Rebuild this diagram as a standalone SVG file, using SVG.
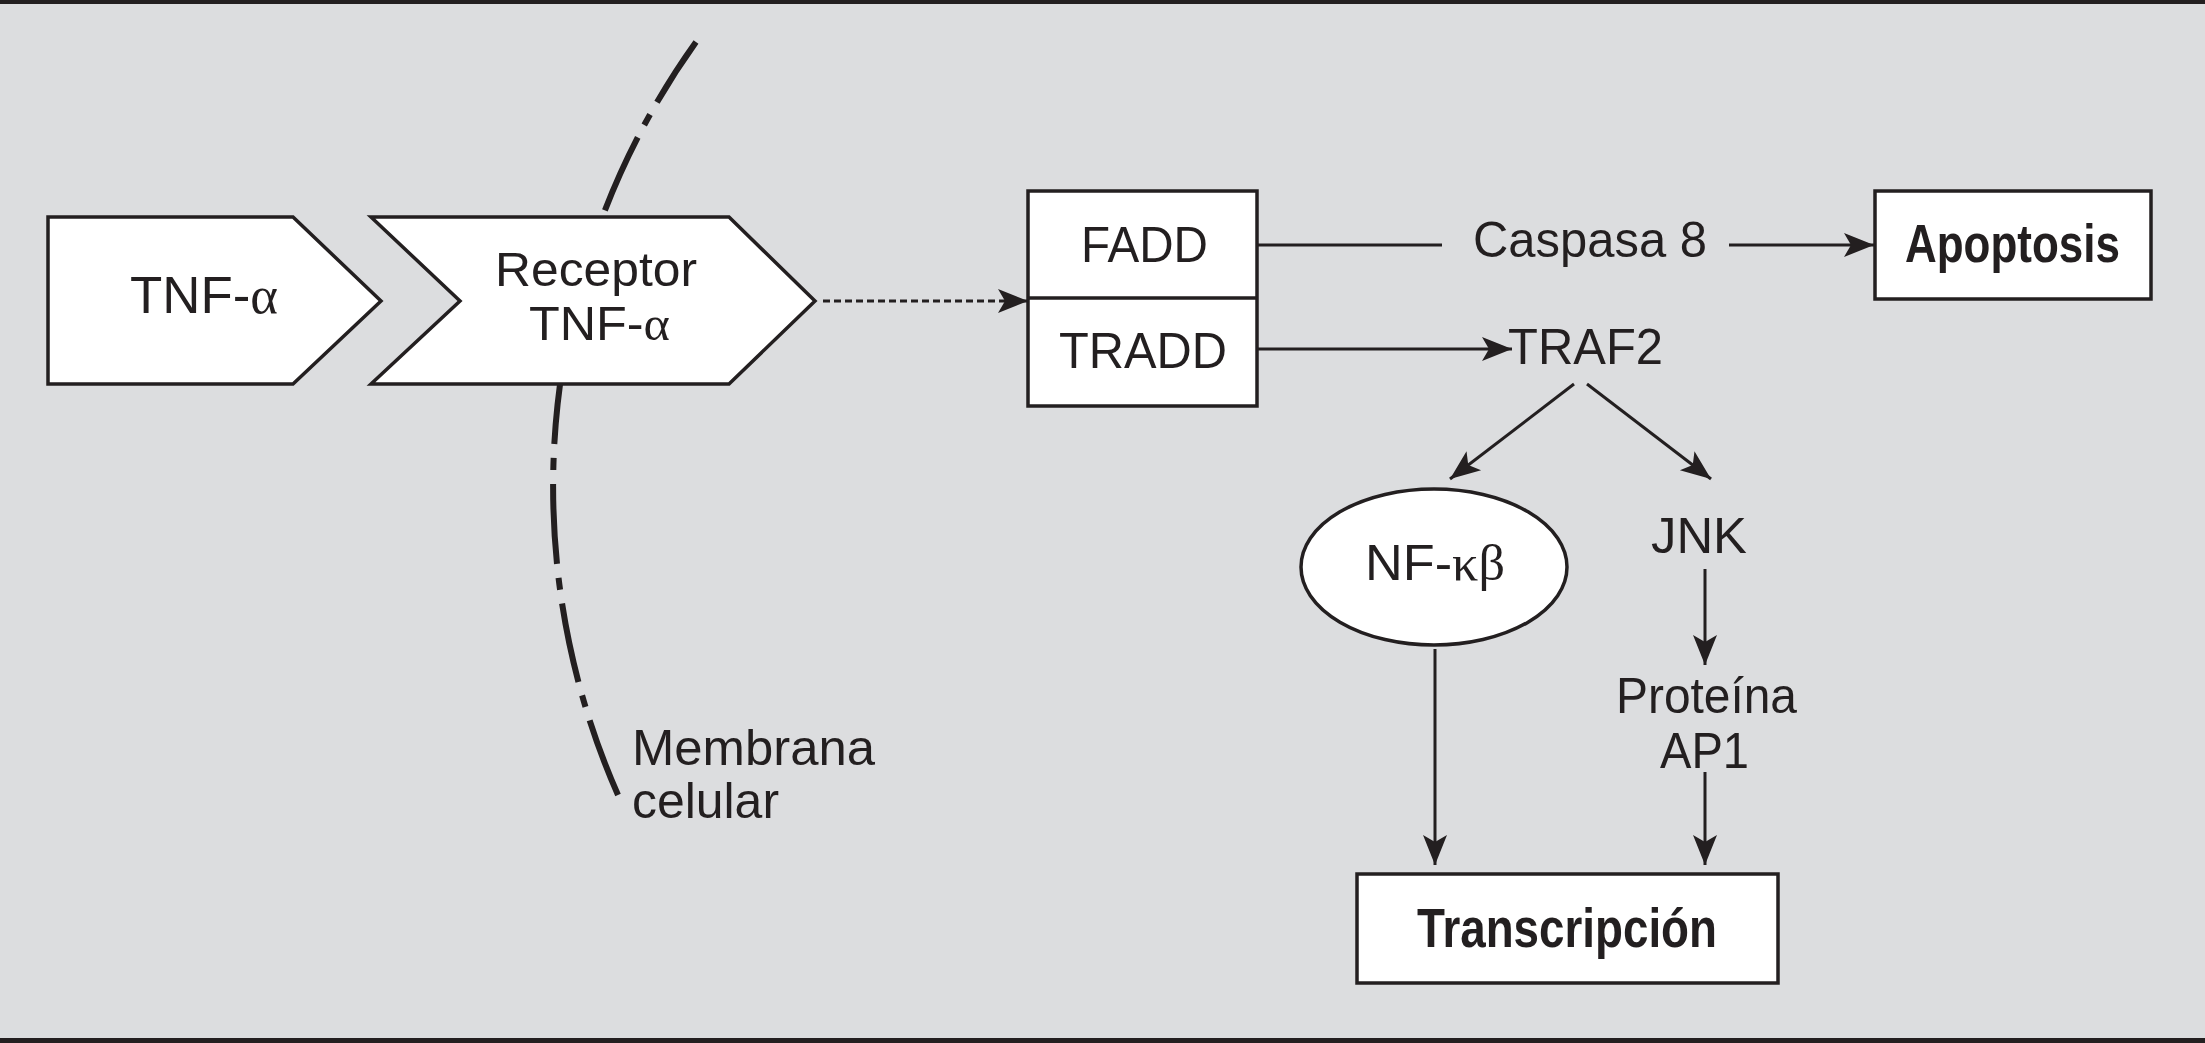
<svg xmlns="http://www.w3.org/2000/svg" width="2205" height="1043" viewBox="0 0 2205 1043">
<style>
.bg{fill:#dcdddf}
.bar{fill:#231f20}
.shape{fill:#ffffff;stroke:#231f20;stroke-width:3.5;stroke-linejoin:miter}
.ln{fill:none;stroke:#231f20;stroke-width:3}
.dot{fill:none;stroke:#231f20;stroke-width:3;stroke-dasharray:7 4}
.mem{fill:none;stroke:#231f20;stroke-width:6;stroke-dasharray:80 14 12 14}
.t{font-family:"Liberation Sans",Arial,sans-serif;font-size:50px;fill:#231f20}
.b{font-family:"Liberation Sans",Arial,sans-serif;font-weight:bold;fill:#231f20}
.g{font-family:"Liberation Serif","Times New Roman",serif}
</style>
<defs>
<marker id="ah" markerUnits="userSpaceOnUse" viewBox="-32 -13 34 26" markerWidth="34" markerHeight="26" refX="0" refY="0" orient="auto">
<path d="M0,0 L-30,-12 L-23,0 L-30,12 Z" fill="#231f20"/>
</marker>
</defs>
<rect class="bg" x="0" y="0" width="2205" height="1043"/>
<rect class="bar" x="0" y="0" width="2205" height="4"/>
<rect class="bar" x="0" y="1038" width="2205" height="5"/>

<g id="membrana">
<path class="mem" d="M 618 795 A 764 764 0 0 1 696 42"/>
<text class="t" x="632" y="765" textLength="243" lengthAdjust="spacingAndGlyphs">Membrana</text>
<text class="t" x="632" y="818" textLength="147" lengthAdjust="spacingAndGlyphs">celular</text>
</g>

<g id="tnf">
<polygon class="shape" points="48,217 293,217 381,301 293,384 48,384"/>
<text class="t" x="130" y="313" style="font-size:52px" textLength="148" lengthAdjust="spacingAndGlyphs">TNF-<tspan class="g">α</tspan></text>
</g>

<g id="receptor">
<polygon class="shape" points="371,217 729,217 815,301 729,384 371,384 460,301"/>
<text class="t" x="495" y="286" style="font-size:48px" textLength="202" lengthAdjust="spacingAndGlyphs">Receptor</text>
<text class="t" x="529" y="340" style="font-size:48px" textLength="141" lengthAdjust="spacingAndGlyphs">TNF-<tspan class="g">α</tspan></text>
</g>

<g id="fadd-tradd">
<rect class="shape" x="1028" y="191" width="229" height="215"/>
<line class="ln" x1="1028" y1="298" x2="1257" y2="298" style="stroke-width:3.5"/>
<text class="t" x="1081" y="262" textLength="127" lengthAdjust="spacingAndGlyphs">FADD</text>
<text class="t" x="1059" y="368" textLength="168" lengthAdjust="spacingAndGlyphs">TRADD</text>
</g>

<g id="caspasa8">
<text class="t" x="1473" y="257" textLength="234" lengthAdjust="spacingAndGlyphs">Caspasa 8</text>
</g>

<g id="apoptosis">
<rect class="shape" x="1875" y="191" width="276" height="108"/>
<text class="b" x="1905" y="262" style="font-size:53px" textLength="215" lengthAdjust="spacingAndGlyphs">Apoptosis</text>
</g>

<g id="traf2">
<text class="t" x="1508" y="364" textLength="155" lengthAdjust="spacingAndGlyphs">TRAF2</text>
</g>

<g id="nfkb">
<ellipse class="shape" cx="1434" cy="567" rx="133" ry="78"/>
<text class="t" x="1365" y="580" textLength="140" lengthAdjust="spacingAndGlyphs">NF-<tspan class="g">κβ</tspan></text>
</g>

<g id="jnk">
<text class="t" x="1651" y="553" textLength="96" lengthAdjust="spacingAndGlyphs">JNK</text>
</g>

<g id="ap1">
<text class="t" x="1616" y="713" textLength="181" lengthAdjust="spacingAndGlyphs">Proteína</text>
<text class="t" x="1660" y="768" textLength="89" lengthAdjust="spacingAndGlyphs">AP1</text>
</g>

<g id="transcripcion">
<rect class="shape" x="1357" y="874" width="421" height="109"/>
<text class="b" x="1417" y="947" style="font-size:55px" textLength="300" lengthAdjust="spacingAndGlyphs">Transcripción</text>
</g>

<g id="connectors">
<path class="dot" d="M 823 301 H 1028" marker-end="url(#ah)"/>
<path class="ln" d="M 1257 245 H 1442"/>
<path class="ln" d="M 1729 245 H 1874" marker-end="url(#ah)"/>
<path class="ln" d="M 1257 349 H 1512" marker-end="url(#ah)"/>
<path class="ln" d="M 1574 384 L 1450 479" marker-end="url(#ah)"/>
<path class="ln" d="M 1587 384 L 1711 479" marker-end="url(#ah)"/>
<path class="ln" d="M 1435 649 V 865" marker-end="url(#ah)"/>
<path class="ln" d="M 1705 569 V 665" marker-end="url(#ah)"/>
<path class="ln" d="M 1705 772 V 865" marker-end="url(#ah)"/>
</g>
</svg>
